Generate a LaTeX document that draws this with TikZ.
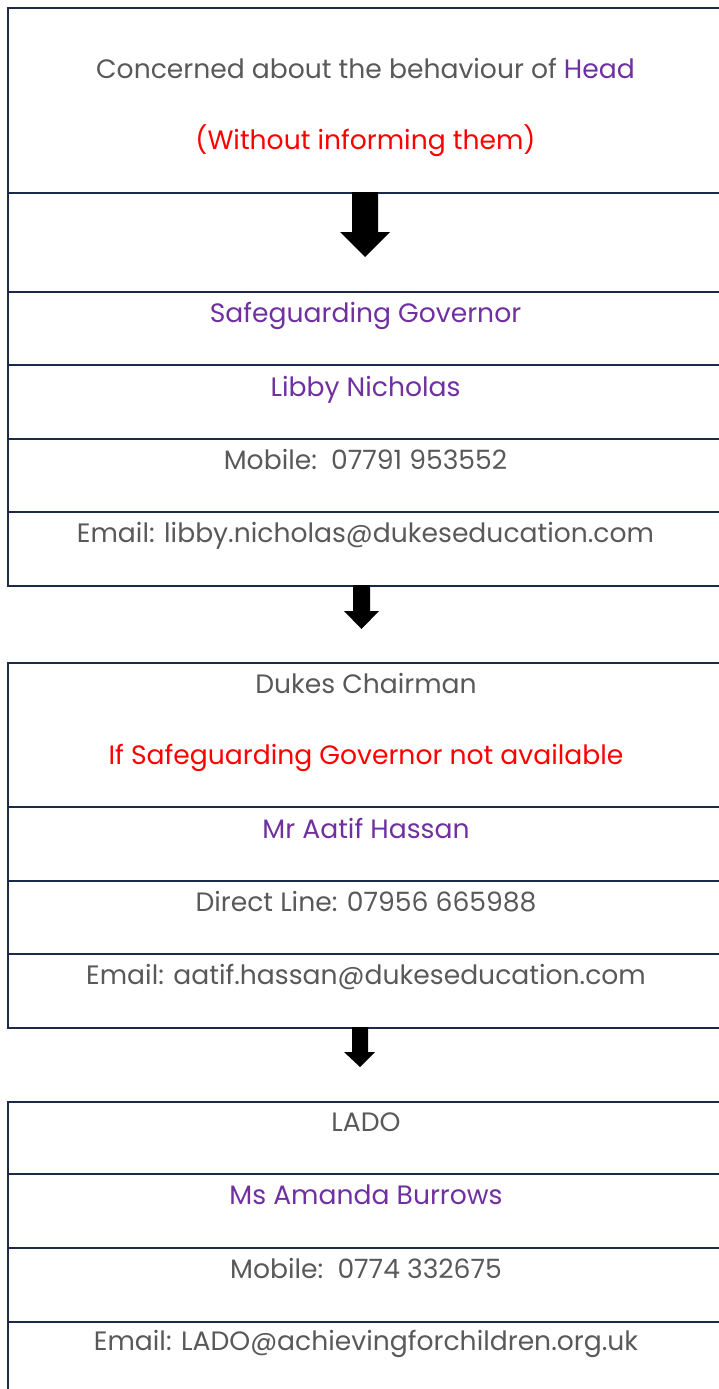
\documentclass[tikz,border=0pt]{standalone}
\usepackage{fontspec}
\setmainfont{Poppins}
\definecolor{linec}{HTML}{1C2A48}
\definecolor{txtgrey}{HTML}{595959}
\definecolor{txtpurple}{HTML}{7030A0}
\definecolor{txtred}{HTML}{FF0000}
\begin{document}
\begin{tikzpicture}[x=1pt,y=-1pt,
  cell/.style={draw=linec,line width=2.3pt,anchor=north west,inner sep=0pt,minimum width=800pt},
  lbl/.style={anchor=base,inner sep=0pt,font=\fontsize{26.6}{30}\selectfont,text=txtgrey},
  pur/.style={lbl,text=txtpurple},
  red/.style={lbl,text=txtred},
  blockarrow/.style={fill=black,draw=none}]
\useasboundingbox (0,0) rectangle (719,1389);
% table 1
\node[cell,minimum height=185pt] (c1) at (7,7) {};
\node[cell,minimum height=99pt] (c2) at (7,192) {};
\node[cell,minimum height=73pt] (c3) at (7,291) {};
\node[cell,minimum height=74pt] (c4) at (7,364) {};
\node[cell,minimum height=73pt] (c5) at (7,438) {};
\node[cell,minimum height=74pt] (c6) at (7,511) {};
% table 2
\node[cell,minimum height=144pt] (d1) at (7,662) {};
\node[cell,minimum height=74pt] (d2) at (7,806) {};
\node[cell,minimum height=73pt] (d3) at (7,880) {};
\node[cell,minimum height=74pt] (d4) at (7,953) {};
% table 3
\node[cell,minimum height=72pt] (e1) at (7,1101) {};
\node[cell,minimum height=74pt] (e2) at (7,1173) {};
\node[cell,minimum height=74pt] (e3) at (7,1247) {};
\node[cell,minimum height=100pt] (e4) at (7,1321) {};
% texts
\node[lbl] (t1) at (365.5,78) {Concerned about the behaviour of \textcolor{txtpurple}{Head}};
\node[red] (t2) at (365.5,149) {(Without informing them)};
\node[pur] (t3) at (365.5,322) {Safeguarding Governor};
\node[pur] (t4) at (365.5,396) {Libby Nicholas};
\node[lbl] (t5) at (365.5,469) {Mobile:\ \ 07791 953552};
\node[lbl] (t6) at (365.5,542) {Email: libby.nicholas@dukeseducation.com};
\node[lbl] (t7) at (366,693) {Dukes Chairman};
\node[red] (t8) at (366,764) {If Safeguarding Governor not available};
\node[pur] (t9) at (366,838) {Mr Aatif Hassan};
\node[lbl] (t10) at (366,911) {Direct Line: 07956 665988};
\node[lbl] (t11) at (366,984) {Email: aatif.hassan@dukeseducation.com};
\node[lbl] (t12) at (366,1131) {LADO};
\node[pur] (t13) at (366,1204) {Ms Amanda Burrows};
\node[lbl] (t14) at (366,1278) {Mobile:\ \ 0774 332675};
\node[lbl] (t15) at (366,1350) {Email: LADO@achievingforchildren.org.uk};
% block arrows
\fill[blockarrow] (352,192) -- (378,192) -- (378,232) -- (390,232) -- (365,257) -- (340,232) -- (352,232) -- cycle;
\fill[blockarrow] (353,585) -- (370,585) -- (370,611) -- (379,611) -- (361.5,629) -- (344,611) -- (353,611) -- cycle;
\fill[blockarrow] (352,1027) -- (368,1027) -- (368,1052) -- (375,1052) -- (360,1067) -- (344,1052) -- (352,1052) -- cycle;
\end{tikzpicture}
\end{document}
